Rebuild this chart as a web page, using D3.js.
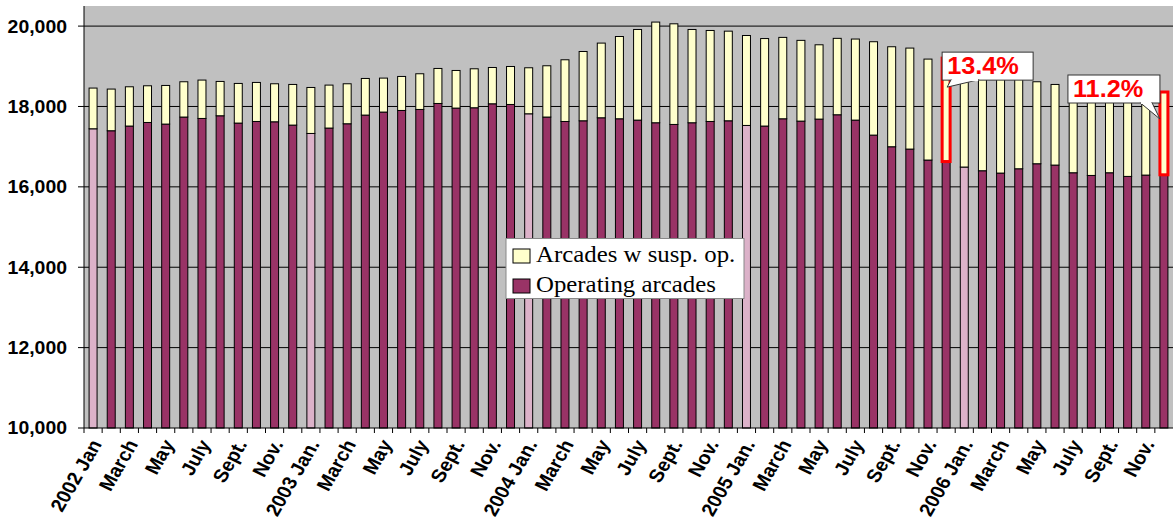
<!DOCTYPE html>
<html>
<head>
<meta charset="utf-8">
<script src="https://cdn.jsdelivr.net/npm/d3@7"></script>
<style>
  body { margin: 0; background: #fff; }
  svg { display: block; }
</style>
</head>
<body>
<svg></svg>
<script>
const width = 1173;
const height = 526;

// months 2002 Jan .. 2006 Dec
const years = [2002, 2003, 2004, 2005, 2006];
const months = [];
years.forEach(y => { for (let m = 1; m <= 12; m++) months.push(y + '-' + m); });

// every second month gets a label
const tickLabels = [
  '2002 Jan', 'March', 'May', 'July', 'Sept.', 'Nov.',
  '2003 Jan.', 'March', 'May', 'July', 'Sept.', 'Nov.',
  '2004 Jan.', 'March', 'May', 'July', 'Sept.', 'Nov.',
  '2005 Jan.', 'March', 'May', 'July', 'Sept.', 'Nov.',
  '2006 Jan.', 'March', 'May', 'July', 'Sept.', 'Nov.'
];

const operating = [
  17445, 17396, 17513, 17602, 17562, 17737, 17702, 17769, 17587, 17627, 17619, 17537,
  17329, 17463, 17570, 17786, 17861, 17901, 17926, 18075, 17960, 17968, 18067, 18050,
  17818, 17737, 17627, 17644, 17719, 17694, 17661, 17595, 17553, 17595, 17627, 17644,
  17528, 17513, 17694, 17636, 17686, 17794, 17661, 17288, 16998, 16940, 16667, 16630,
  16493, 16401, 16343, 16450, 16575, 16542, 16351, 16284, 16351, 16260, 16293, 16300
];

const suspended = [
  1013, 1037, 977, 913, 961, 878, 955, 854, 986, 971, 946, 1011,
  1144, 1069, 995, 911, 845, 846, 888, 871, 936, 970, 903, 945,
  1145, 1276, 1535, 1724, 1858, 2047, 2255, 2505, 2504, 2321, 2264, 2230,
  2238, 2177, 2025, 2009, 1849, 1901, 2017, 2323, 2488, 2513, 2512, 2573,
  2457, 2449, 2407, 2250, 2040, 2006, 2099, 2136, 2049, 2120, 2077, 2060
];

const yTicks = [10000, 12000, 14000, 16000, 18000, 20000];

const callouts = [
  { month: '2005-12', text: '13.4%' },
  { month: '2006-12', text: '11.2%' }
];

const legendItems = ['Arcades w susp. op.', 'Operating arcades'];

const colOper = '#993366';
const colJan = '#dcb2c9';
const colSusp = '#ffffcc';

const margin = { top: 6, right: 0, bottom: 98, left: 84 };

const svg = d3.select('svg')
  .attr('width', width)
  .attr('height', height);

const x = d3.scaleBand()
  .domain(months)
  .range([margin.left, width - margin.right])
  .padding(0);

const y = d3.scaleLinear()
  .domain([10000, 20500])
  .range([height - margin.bottom, margin.top]);

const barW = x.bandwidth() * 0.44;
const barX = d => x(d) + (x.bandwidth() - barW) / 2;

// plot background
svg.append('rect')
  .attr('x', margin.left)
  .attr('y', margin.top)
  .attr('width', width - margin.left - margin.right)
  .attr('height', y(10000) - margin.top)
  .attr('fill', '#c0c0c0');

// gridlines
svg.selectAll('.grid')
  .data(yTicks.slice(1))
  .enter()
  .append('line')
  .attr('class', 'grid')
  .attr('x1', margin.left)
  .attr('x2', width)
  .attr('y1', d => y(d))
  .attr('y2', d => y(d))
  .attr('stroke', '#000')
  .attr('stroke-width', 1);

const data = months.map((m, i) => ({ m: m, op: operating[i], sus: suspended[i], jan: i % 12 === 0 }));
const hot = callouts.map(c => c.month);

// operating arcades
svg.selectAll('.op')
  .data(data)
  .enter()
  .append('rect')
  .attr('class', 'op')
  .attr('x', d => barX(d.m))
  .attr('y', d => y(d.op))
  .attr('width', barW)
  .attr('height', d => y(10000) - y(d.op))
  .attr('fill', d => d.jan ? colJan : colOper)
  .attr('stroke', '#000')
  .attr('stroke-width', 1);

// arcades with suspended operation
svg.selectAll('.sus')
  .data(data)
  .enter()
  .append('rect')
  .attr('class', 'sus')
  .attr('x', d => barX(d.m))
  .attr('y', d => y(d.op + d.sus))
  .attr('width', barW)
  .attr('height', d => y(d.op) - y(d.op + d.sus))
  .attr('fill', colSusp)
  .attr('stroke', d => hot.includes(d.m) ? '#ff0000' : '#000')
  .attr('stroke-width', d => hot.includes(d.m) ? 3 : 1);

// axes
svg.append('line')
  .attr('x1', margin.left).attr('x2', width)
  .attr('y1', y(10000)).attr('y2', y(10000))
  .attr('stroke', '#000');
svg.append('line')
  .attr('x1', margin.left).attr('x2', margin.left)
  .attr('y1', margin.top).attr('y2', y(10000))
  .attr('stroke', '#000');

svg.selectAll('.xtick')
  .data(months)
  .enter()
  .append('line')
  .attr('x1', d => x(d)).attr('x2', d => x(d))
  .attr('y1', y(10000)).attr('y2', y(10000) + 5)
  .attr('stroke', '#000');

svg.selectAll('.ytick')
  .data(yTicks)
  .enter()
  .append('line')
  .attr('x1', margin.left - 6).attr('x2', margin.left)
  .attr('y1', d => y(d)).attr('y2', d => y(d))
  .attr('stroke', '#000');

svg.selectAll('.ylab')
  .data(yTicks)
  .enter()
  .append('text')
  .attr('transform', d => `translate(67,${y(d)}) scale(1.08,1)`)
  .attr('dy', '0.36em')
  .attr('text-anchor', 'end')
  .attr('font-family', 'Liberation Sans, Arial, sans-serif')
  .attr('font-weight', 'bold')
  .attr('font-size', '18px')
  .text(d3.format(','));

svg.selectAll('.xlab')
  .data(tickLabels)
  .enter()
  .append('text')
  .attr('transform', (d, i) => {
    const m = months[i * 2];
    return `translate(${x(m) + x.bandwidth() / 2 + 3},${y(10000) + 13}) scale(1.1,1) rotate(-62)`;
  })
  .attr('text-anchor', 'end')
  .attr('dy', '0.35em')
  .attr('font-family', 'Liberation Sans, Arial, sans-serif')
  .attr('font-weight', 'bold')
  .attr('font-size', '18.5px')
  .text(d => d);

// legend
const lg = svg.append('g').attr('transform', 'translate(506,238.5)');
lg.append('rect')
  .attr('width', 238).attr('height', 60)
  .attr('fill', '#fff')
  .attr('stroke', '#888').attr('stroke-width', 1);
lg.selectAll('.sw')
  .data(legendItems)
  .enter()
  .append('rect')
  .attr('x', 7).attr('y', (d, i) => 10.5 + i * 30)
  .attr('width', 17).attr('height', 14)
  .attr('fill', (d, i) => i === 0 ? colSusp : colOper)
  .attr('stroke', '#000');
lg.selectAll('.lt')
  .data(legendItems)
  .enter()
  .append('text')
  .attr('transform', (d, i) => `translate(30,${23.5 + i * 30}) scale(1.08,1)`)
  .attr('font-family', 'Liberation Serif, Times New Roman, serif')
  .attr('font-size', '23px')
  .text(d => d);

// callouts
const calloutLayout = [
  { dx: 0, dy: -6, w: 91, h: 28, base: [9, 37], tip: [5, 35] },
  { dx: -92, dy: -17, w: 92, h: 28, base: [72, 84], tip: [92, 44] }
];
callouts.forEach((c, k) => {
  const L = calloutLayout[k];
  const i = months.indexOf(c.month);
  const bx = barX(c.month) + L.dx;
  const by = y(operating[i] + suspended[i]) + L.dy;
  const g = svg.append('g').attr('transform', `translate(${bx},${by})`);
  g.append('rect')
    .attr('width', L.w).attr('height', L.h)
    .attr('fill', '#fff').attr('stroke', '#333').attr('stroke-width', 1);
  // pointer
  g.append('path')
    .attr('d', `M${L.base[0]},${L.h - 0.5} L${L.tip[0]} ${L.tip[1]} L${L.base[1]},${L.h - 0.5}`)
    .attr('fill', '#fff').attr('stroke', '#333').attr('stroke-width', 1);
  g.append('rect')
    .attr('x', L.base[0] + 1).attr('y', L.h - 2)
    .attr('width', L.base[1] - L.base[0] - 2).attr('height', 3)
    .attr('fill', '#fff');
  g.append('text')
    .attr('transform', `translate(5,${L.h / 2}) scale(1.1,1)`)
    .attr('dy', '0.36em')
    .attr('fill', '#ff0000')
    .attr('font-family', 'Liberation Sans, Arial, sans-serif')
    .attr('font-weight', 'bold')
    .attr('font-size', '23px')
    .text(c.text);
});
</script>
</body>
</html>
